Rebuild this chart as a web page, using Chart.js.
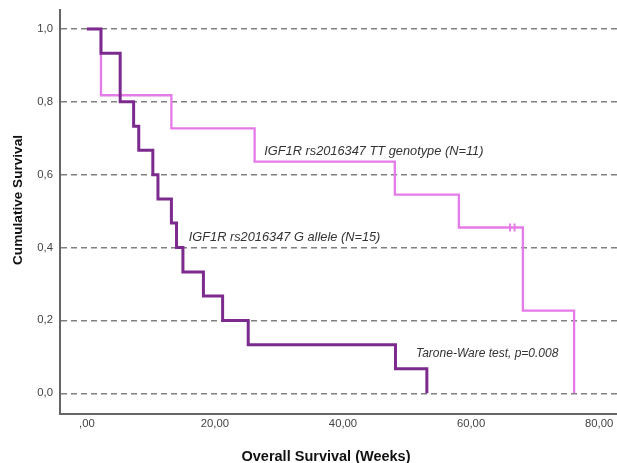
<!DOCTYPE html>
<html>
<head>
<meta charset="utf-8">
<script src="https://cdn.jsdelivr.net/npm/chart.js@4/dist/chart.umd.min.js"></script>
<style>
  html, body { margin: 0; padding: 0; background: #fff; }
  canvas { display: block; }
</style>
</head>
<body>
<canvas id="km" width="617" height="463"></canvas>
<script>
// Kaplan-Meier estimates: event times (weeks) and survival after each step
const ttWeeks    = [0, 2.2, 13.2, 26.2, 48.1, 58.1, 68.1, 76.1];
const ttSurvival = [1.0, 0.818, 0.727, 0.636, 0.545, 0.455, 0.227, 0.0];
const gWeeks     = [0, 2.2, 5.2, 7.3, 8.1, 10.3, 11.1, 13.2, 14.0, 15.0, 18.2, 21.2, 25.2, 48.2, 53.1];
const gSurvival  = [1.0, 0.933, 0.8, 0.733, 0.667, 0.6, 0.533, 0.467, 0.4, 0.333, 0.267, 0.2, 0.133, 0.067, 0.0];
// censored observations in the TT group
const ttCensoredWeeks    = [66.1, 66.8];
const ttCensoredSurvival = [0.455, 0.455];

const xTicks      = [0, 20, 40, 60, 80];
const xTickLabels = [',00', '20,00', '40,00', '60,00', '80,00'];
const yTicks      = [0, 0.2, 0.4, 0.6, 0.8, 1.0];
const yTickLabels = ['0,0', '0,2', '0,4', '0,6', '0,8', '1,0'];

const xTitle = 'Overall Survival (Weeks)';
const yTitle = 'Cumulative Survival';
const ttLabel = 'IGF1R rs2016347 TT genotype (N=11)';
const gLabel  = 'IGF1R rs2016347 G allele (N=15)';
const testLabel = 'Tarone-Ware test, p=0.008';

const toPoints = (xs, ys) => xs.map((x, i) => ({ x: x, y: ys[i] }));

const TT_COLOR = '#e57ae9';
const G_COLOR  = '#7d2a8f';
const FONT = '"Liberation Sans", Arial, sans-serif';

// draws the in-plot notes and the axis titles
const notesPlugin = {
  id: 'notes',
  afterDraw(chart, args, opts) {
    const { ctx, scales } = chart;
    ctx.save();
    ctx.fillStyle = '#333';
    ctx.textBaseline = 'middle';
    ctx.textAlign = 'left';
    opts.notes.forEach(n => {
      ctx.font = 'italic ' + n.size + 'px ' + FONT;
      ctx.fillText(n.text, scales.x.getPixelForValue(n.x), scales.y.getPixelForValue(n.y));
    });

    ctx.fillStyle = '#111';
    ctx.textAlign = 'center';
    ctx.font = 'bold 14.5px ' + FONT;
    ctx.fillText(xTitle, opts.xTitlePos[0], opts.xTitlePos[1]);

    ctx.translate(opts.yTitlePos[0], opts.yTitlePos[1]);
    ctx.rotate(-Math.PI / 2);
    ctx.font = 'bold 13.6px ' + FONT;
    ctx.fillText(yTitle, 0, 0);
    ctx.restore();
  }
};

new Chart(document.getElementById('km'), {
  type: 'line',
  data: {
    datasets: [
      {
        label: 'TT censored',
        data: toPoints(ttCensoredWeeks, ttCensoredSurvival),
        showLine: false,
        pointStyle: 'line',
        rotation: 90,
        pointRadius: 4,
        borderColor: TT_COLOR,
        borderWidth: 2,
        order: 3
      },
      {
        label: ttLabel,
        data: toPoints(ttWeeks, ttSurvival),
        stepped: 'before',
        borderColor: TT_COLOR,
        borderWidth: 2.3,
        pointRadius: 0,
        fill: false,
        order: 2
      },
      {
        label: gLabel,
        data: toPoints(gWeeks, gSurvival),
        stepped: 'before',
        borderColor: G_COLOR,
        borderWidth: 3,
        pointRadius: 0,
        fill: false,
        order: 1
      }
    ]
  },
  options: {
    responsive: false,
    animation: false,
    events: [],
    layout: { autoPadding: false, padding: { top: 10, right: 0, bottom: 0, left: 0 } },
    plugins: {
      legend: { display: false },
      tooltip: { enabled: false },
      notes: {
        notes: [
          { text: ttLabel, x: 27.7, y: 0.663, size: 12.8 },
          { text: gLabel, x: 15.9, y: 0.427, size: 12.8 },
          { text: testLabel, x: 51.4, y: 0.108, size: 12 }
        ],
        xTitlePos: [326, 457],
        yTitlePos: [18, 200]
      }
    },
    scales: {
      x: {
        type: 'linear',
        min: -4.2,
        max: 82.8,
        afterFit: s => { s.height = 49; s.paddingLeft = 0; s.paddingRight = 0; },
        afterBuildTicks: s => { s.ticks = xTicks.map(v => ({ value: v })); },
        grid: { display: false, drawTicks: false },
        border: { display: true, color: '#666', width: 2 },
        ticks: {
          autoSkip: false,
          maxRotation: 0,
          padding: 3,
          color: '#444',
          font: { family: FONT, size: 11.3 },
          callback: (v, i) => xTickLabels[i]
        }
      },
      y: {
        type: 'linear',
        min: -0.057,
        max: 1.052,
        afterFit: s => { s.width = 60; s.paddingTop = 0; s.paddingBottom = 0; },
        afterBuildTicks: s => { s.ticks = yTicks.map(v => ({ value: v })); },
        grid: {
          display: true,
          drawTicks: false,
          color: '#808080',
          lineWidth: 1.4
        },
        border: { display: true, color: '#666', width: 2, dash: [6, 4] },
        ticks: {
          autoSkip: false,
          padding: 7,
          color: '#444',
          font: { family: FONT, size: 11.3 },
          callback: (v, i) => yTickLabels[i]
        }
      }
    }
  },
  plugins: [notesPlugin]
});
</script>
</body>
</html>
